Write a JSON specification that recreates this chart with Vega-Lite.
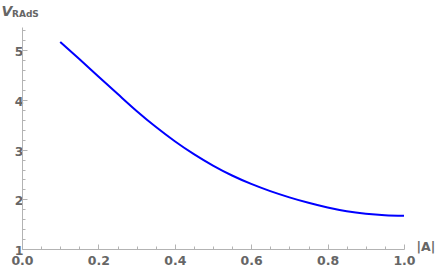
{
  "$schema": "https://vega.github.io/schema/vega-lite/v6.json",
  "width": 382,
  "height": 222,
  "autosize": "none",
  "padding": {"left": 22, "top": 27, "right": 32, "bottom": 24},
  "background": "white",
  "title": {
    "text": "RAdS",
    "anchor": "start",
    "frame": "group",
    "orient": "top",
    "font": "DejaVu Sans",
    "fontSize": 9,
    "fontWeight": "bold",
    "color": "#666666",
    "baseline": "alphabetic",
    "offset": 8,
    "dx": -10,
    "dy": 30
  },
  "config": {
    "view": {"stroke": null},
    "axis": {
      "grid": false,
      "domainColor": "#b3b3b3",
      "tickColor": "#b3b3b3",
      "labelFont": "DejaVu Sans",
      "labelFontSize": 12.5,
      "labelFontWeight": "bold",
      "labelColor": "#666666",
      "titleFont": "DejaVu Sans",
      "titleColor": "#666666"
    }
  },
  "data": {
    "values": [
      {"a": 0.10, "v": 5.17},
      {"a": 0.15, "v": 4.825},
      {"a": 0.20, "v": 4.475},
      {"a": 0.25, "v": 4.125},
      {"a": 0.30, "v": 3.78},
      {"a": 0.35, "v": 3.46},
      {"a": 0.40, "v": 3.17},
      {"a": 0.45, "v": 2.91},
      {"a": 0.50, "v": 2.68},
      {"a": 0.55, "v": 2.48},
      {"a": 0.60, "v": 2.31},
      {"a": 0.65, "v": 2.165},
      {"a": 0.70, "v": 2.04},
      {"a": 0.75, "v": 1.93},
      {"a": 0.80, "v": 1.835},
      {"a": 0.85, "v": 1.76},
      {"a": 0.90, "v": 1.71},
      {"a": 0.95, "v": 1.68},
      {"a": 1.00, "v": 1.67}
    ]
  },
  "mark": {"type": "line", "color": "#0000ff", "strokeWidth": 2, "interpolate": "monotone"},
  "encoding": {
    "x": {
      "field": "a",
      "type": "quantitative",
      "scale": {"domain": [0, 1], "nice": false, "zero": false},
      "axis": {
        "title": "|A|",
        "titleX": 394,
        "titleY": 1,
        "titleAlign": "left",
        "titleBaseline": "alphabetic",
        "titleFontSize": 12.5,
        "titleFontWeight": "bold",
        "values": [0,0.05,0.1,0.15,0.2,0.25,0.3,0.35,0.4,0.45,0.5,0.55,0.6,0.65,0.7,0.75,0.8,0.85,0.9,0.95,1.0],
        "labelExpr": "abs(datum.value*5 - round(datum.value*5)) < 0.000001 ? format(datum.value, '.1f') : ''",
        "tickSize": {"condition": {"test": "abs(datum.value*5 - round(datum.value*5)) < 0.000001", "value": -5}, "value": -3},
        "labelPadding": 10,
        "labelFlush": false,
        "labelOverlap": false
      }
    },
    "y": {
      "field": "v",
      "type": "quantitative",
      "scale": {"domain": [1, 5.47], "nice": false, "zero": false},
      "axis": {
        "title": "V",
        "titleAngle": 0,
        "titleX": -21,
        "titleY": -12,
        "titleAlign": "left",
        "titleBaseline": "alphabetic",
        "titleFontSize": 14,
        "titleFontWeight": "bold",
        "titleFontStyle": "italic",
        "values": [1,1.2,1.4,1.6,1.8,2,2.2,2.4,2.6,2.8,3,3.2,3.4,3.6,3.8,4,4.2,4.4,4.6,4.8,5,5.2,5.4],
        "labelExpr": "abs(datum.value - round(datum.value)) < 0.000001 ? format(datum.value, 'd') : ''",
        "tickSize": {"condition": {"test": "abs(datum.value - round(datum.value)) < 0.000001", "value": -5}, "value": -3},
        "labelPadding": 4,
        "labelOffset": 1.5,
        "labelOverlap": false,
        "labelFlush": false
      }
    }
  }
}
